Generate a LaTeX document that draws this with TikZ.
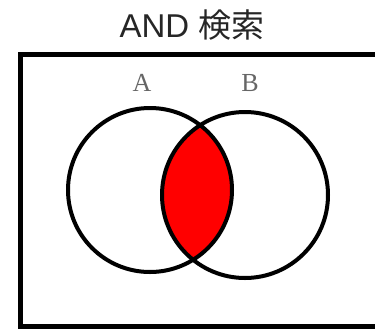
\documentclass[tikz,border=0pt]{standalone}
\usepackage{fontspec}
\newfontfamily\jpfont{Noto Sans CJK JP}
\newfontfamily\latfont{Liberation Sans}
\newfontfamily\labfont{Liberation Serif}
\begin{document}
\begin{tikzpicture}[x=1pt,y=-1pt,
  ring/.style={draw=black,line width=4pt},
  setlabel/.style={font=\labfont\fontsize{26}{26}\selectfont,text=black!60,inner sep=0pt}]
\useasboundingbox (0,0) rectangle (375,330);
\clip (0,0) rectangle (375,330);
\fill[white] (0,0) rectangle (375,330);
\node[font=\fontsize{33}{33}\selectfont,text=black!85,inner sep=0pt] (title) at (192,25) {\latfont AND \jpfont 検索};
\draw[line width=5pt] (20,54.5) rectangle (380,326);
\coordinate (ca) at (150,190);
\coordinate (cb) at (245,195);
\begin{scope}
  \clip (ca) circle[radius=82];
  \fill[red] (cb) circle[radius=83];
\end{scope}
\draw[ring] (ca) circle[radius=82];
\draw[ring] (cb) circle[radius=83];
\node[setlabel] (la) at (142,83) {A};
\node[setlabel] (lb) at (250,83) {B};
\end{tikzpicture}
\end{document}
